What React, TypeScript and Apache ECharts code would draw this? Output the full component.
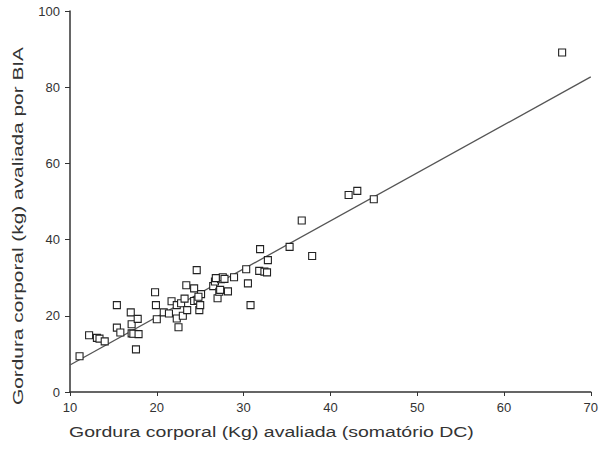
import React, { useEffect, useRef } from "react";
import * as echarts from "echarts";

const xValues = [
  11.1, 12.2, 13.1, 13.4, 14.0, 15.4, 15.4, 15.8, 17.0, 17.1, 17.1, 17.3, 17.6, 17.8, 17.9,
  19.8, 19.9, 20.0, 20.8, 21.4, 21.7, 22.3, 22.3, 22.5, 22.8, 23.0, 23.2, 23.4, 23.5,
  24.3, 24.6, 24.3, 24.7, 24.9, 25.0, 25.1, 24.8, 26.5, 26.7, 27.0, 27.2, 27.4, 27.6, 27.8,
  27.3, 28.2, 28.9, 26.8, 30.3, 30.5, 30.8, 31.9, 31.8, 32.4, 32.7, 32.8, 35.3, 37.9,
  36.7, 42.1, 43.1, 45.0, 66.7,
];
const yValues = [
  9.4, 14.9, 14.2, 14.0, 13.3, 22.8, 16.9, 15.6, 20.9, 17.8, 15.4, 15.3, 11.2, 19.2, 15.2,
  26.2, 22.8, 19.1, 20.9, 20.6, 23.8, 22.8, 19.3, 17.0, 23.3, 20.0, 24.5, 28.0, 21.5,
  27.2, 32.0, 23.9, 24.1, 21.5, 22.8, 25.7, 25.0, 27.8, 29.0, 24.6, 26.3, 29.6, 30.1, 29.7,
  26.8, 26.4, 30.1, 29.9, 32.2, 28.5, 22.8, 37.5, 31.8, 31.6, 31.4, 34.6, 38.1, 35.7,
  45.0, 51.7, 52.8, 50.6, 89.1,
];
const fitX = [10, 70];
const fitY = [7.1, 82.7];
const xTicks = [10, 20, 30, 40, 50, 60, 70];
const yTicks = [0, 20, 40, 60, 80, 100];
const xTitle = "Gordura corporal (Kg) avaliada (somatório DC)";
const yTitle = "Gordura corporal (kg) avaliada por BIA";

export default function App() {
  const ref = useRef<HTMLDivElement>(null);
  useEffect(() => {
    const chart = echarts.init(ref.current!, undefined, { renderer: "svg" });
    const font = "Arial, 'Liberation Sans', sans-serif";
    chart.setOption({
      animation: false,
      grid: { left: 70, right: 7, top: 11, bottom: 73 },
      xAxis: {
        type: "value",
        min: xTicks[0],
        max: xTicks[xTicks.length - 1],
        interval: 10,
        axisLine: { show: true, lineStyle: { color: "#333", width: 1.5 } },
        axisTick: { show: true, length: 4, lineStyle: { color: "#333" } },
        axisLabel: { color: "#333", fontSize: 13, fontFamily: font, margin: 9 },
        splitLine: { show: false },
      },
      yAxis: {
        type: "value",
        min: yTicks[0],
        max: yTicks[yTicks.length - 1],
        interval: 20,
        axisLine: { show: true, lineStyle: { color: "#333", width: 1.5 } },
        axisTick: { show: true, length: 5, lineStyle: { color: "#333" } },
        axisLabel: { color: "#333", fontSize: 13, fontFamily: font, margin: 10 },
        splitLine: { show: false },
      },
      series: [
        {
          type: "line",
          data: fitX.map((x, i) => [x, fitY[i]]),
          symbol: "none",
          lineStyle: { color: "#555", width: 1.3 },
          silent: true,
          z: 1,
        },
        {
          type: "scatter",
          data: xValues.map((x, i) => [x, yValues[i]]),
          symbol: "rect",
          symbolSize: 7,
          itemStyle: { color: "#fff", borderColor: "#222", borderWidth: 1.1, opacity: 1 },
          z: 2,
        },
      ],
      graphic: [
        {
          type: "text",
          x: 69,
          y: 432,
          scaleX: 1.3,
          style: { text: xTitle, fontSize: 15, fontFamily: font, fill: "#333", align: "left", verticalAlign: "middle" },
        },
        {
          type: "text",
          x: 18,
          y: 226,
          rotation: Math.PI / 2,
          scaleX: 1.39,
          style: {
            text: yTitle,
            fontSize: 15,
            fontFamily: font,
            fill: "#333",
            align: "center",
            verticalAlign: "middle",
          },
        },
      ],
    });
    return () => chart.dispose();
  }, []);
  return <div ref={ref} style={{ width: 601, height: 465, position: "absolute", left: 0, top: 0 }} />;
}
